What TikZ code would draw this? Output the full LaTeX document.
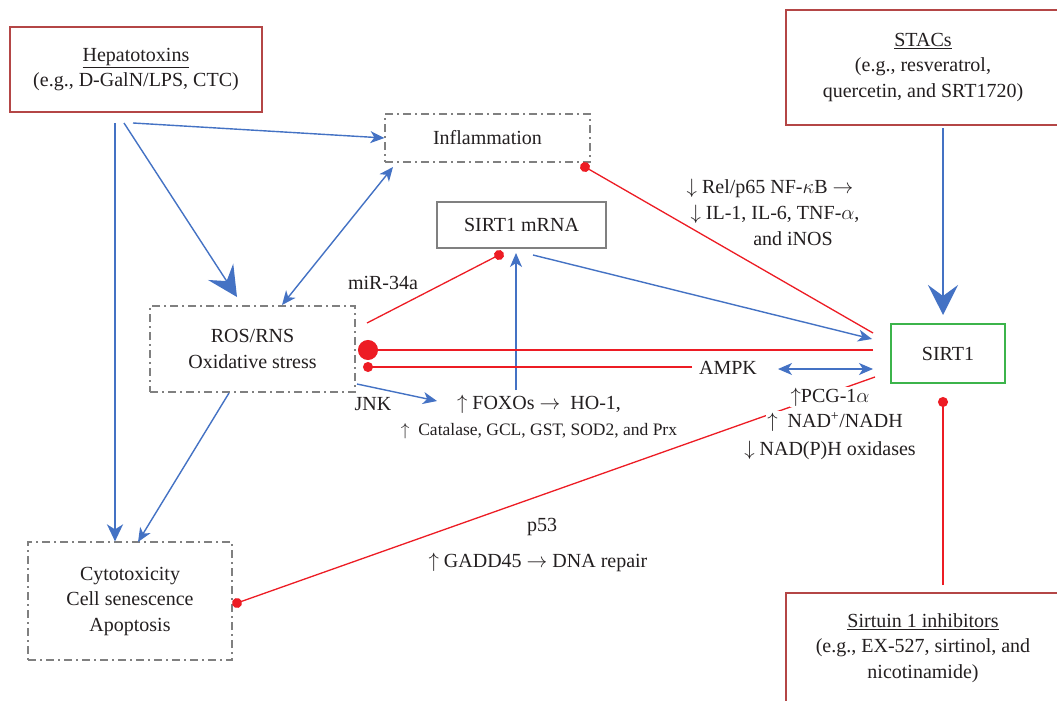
\documentclass[tikz,border=0pt]{standalone}
\usepackage{fontspec}
\setmainfont{Liberation Serif}
\usetikzlibrary{arrows.meta}
\definecolor{myblue}{RGB}{68,114,196}
\definecolor{myred}{RGB}{237,28,36}
\definecolor{boxred}{RGB}{180,70,70}
\definecolor{mygreen}{RGB}{60,180,75}
\definecolor{mygray}{RGB}{128,128,128}
\definecolor{txt}{RGB}{35,31,32}
\tikzset{
  solidbox/.style={draw=boxred, line width=1.5pt, align=center, inner sep=0pt},
  dbox/.style={draw=mygray, line width=1.2pt, dash pattern=on 8pt off 4pt on 2pt off 4pt, align=center, inner sep=0pt},
  bl/.style={draw=myblue, line width=1.4pt, -{Stealth[length=14pt,width=12pt,inset=4pt]}},
  bldbl/.style={draw=myblue, line width=1.4pt, {Stealth[length=14pt,width=12pt,inset=4pt]}-{Stealth[length=14pt,width=12pt,inset=4pt]}},
  blthick/.style={draw=myblue, line width=2.2pt, -{Stealth[length=17pt,width=16pt,inset=5pt]}},
  blbig/.style={draw=myblue, line width=2.2pt, -{Stealth[length=30pt,width=30pt,inset=11pt]}},
  rd/.style={draw=myred, line width=1.3pt, -{Circle[length=10pt]}, shorten >=-5pt},
  rdbig/.style={draw=myred, line width=1.3pt, -{Circle[length=20pt]}, shorten >=-10pt},
  rdplain/.style={draw=myred, line width=1.3pt},
  lbl/.style={inner sep=1pt},
  lblw/.style={fill=white, inner sep=1pt},
}
\begin{document}
\begin{tikzpicture}[x=1pt,y=-1pt, font=\fontsize{20}{25.5}\selectfont, text=txt]
\fill[white] (0,0) rectangle (1057,701);
\useasboundingbox (0,0) rectangle (1057,701);

% boxes
\node[solidbox, minimum width=252pt, minimum height=85pt] (hep) at (136,69.5) {\underline{Hepatotoxins}\\(e.g., D-GalN/LPS, CTC)};
\node[solidbox, minimum width=274pt, minimum height=115pt] (stacs) at (923,67.5) {\underline{STACs}\\(e.g., resveratrol,\\quercetin, and SRT1720)};
\node[solidbox, minimum width=274pt, minimum height=110pt] (inh) at (923,648) {\underline{Sirtuin 1 inhibitors}\\(e.g., EX-527, sirtinol, and\\nicotinamide)};
\node[dbox, minimum width=205pt, minimum height=48pt] (infl) at (487.5,138) {Inflammation};
\node[draw=mygray, line width=1.2pt, minimum width=169pt, minimum height=46pt, inner sep=0pt] (mrna) at (521.5,225) {SIRT1 mRNA};
\node[dbox, minimum width=205pt, minimum height=86pt] (ros) at (252.5,349) {ROS/RNS\\Oxidative stress};
\node[draw=mygreen, line width=1.5pt, minimum width=114pt, minimum height=59pt, inner sep=0pt] (sirt) at (948,353.5) {SIRT1};
\node[dbox, minimum width=204pt, minimum height=118pt] (cyto) at (130,601) {Cytotoxicity\\Cell senescence\\Apoptosis};

% connector end points
\coordinate (hA) at (115,123);
\coordinate (hB) at (124,123);
\coordinate (hC) at (133,123);
\coordinate (rosIn) at (237,297);
\coordinate (rosN) at (282,305);
\coordinate (inflSW) at (393,167);
\coordinate (rosS) at (229,393);
\coordinate (cytoN) at (138,542);
\coordinate (rosE) at (357,384);
\coordinate (foxIn) at (437,401);
\coordinate (foxUp) at (516,390);
\coordinate (mrnaS) at (516,253);
\coordinate (mirA) at (367,323);
\coordinate (mirDot) at (499,255);
\coordinate (mrnaE) at (533,255);
\coordinate (sirtA) at (872,339);
\coordinate (sirtB) at (873,333);
\coordinate (inflDot) at (585,167);
\coordinate (sirtC) at (873,350);
\coordinate (rosDotBig) at (368,350);
\coordinate (ampkW) at (692,367);
\coordinate (rosDot) at (368,367);
\coordinate (ampkE) at (778,369);
\coordinate (sirtD) at (873,369);
\coordinate (sirtE) at (875,377);
\coordinate (cytoDot) at (237,603);
\coordinate (stacsS) at (943,128);
\coordinate (sirtN) at (943,315);
\coordinate (inhN) at (943,585);
\coordinate (sirtDot) at (943,402);

% connectors
\draw[blthick] (hA) -- (hA |- cyto.north);
\draw[bl] (hC) -- (infl.west);
\draw[blbig, line width=1.4pt] (hB) -- (rosIn);
\draw[bldbl] (rosN) -- (inflSW);
\draw[bl] (rosS) -- (cytoN);
\draw[bl] (rosE) -- (foxIn);
\draw[bl] (foxUp) -- (mrnaS);
\draw[rd] (mirA) -- (mirDot);
\draw[bl] (mrnaE) -- (sirtA);
\draw[rd] (sirtB) -- (inflDot);
\draw[rdbig] (sirtC) -- (rosDotBig);
\draw[rd] (ampkW) -- (rosDot);
\draw[bldbl] (ampkE) -- (sirtD);
\draw[rd] (sirtE) -- (cytoDot);
\draw[blbig] (stacsS) -- (sirtN);
\draw[rd] (inhN) -- (sirtDot);

% labels
\node[lbl] (mir) at (383,283) {miR-34a};
\node[lbl] (jnk) at (373,404) {JNK};
\node[lblw] (fox) at (539,404) {$\uparrow$ FOXOs $\rightarrow$\ \ HO-1,};
\node[lblw, font=\fontsize{17.5}{21}\selectfont] (cat) at (539,431) {$\uparrow$\ \ Catalase, GCL, GST, SOD2, and Prx};
\node[lblw] (ampk) at (728,368) {AMPK};
\node[lbl] (rel1) at (770,188) {$\downarrow$ Rel/p65 NF-$\kappa$B $\rightarrow$};
\node[lbl] (rel2) at (775,214) {$\downarrow$ IL-1, IL-6, TNF-$\alpha$,};
\node[lbl] (rel3) at (793,239) {and iNOS};
\node[lblw] (pcg) at (830,397) {$\uparrow$PCG-1$\alpha$};
\node[lblw] (nad) at (835,422) {$\uparrow$\ \ NAD\textsuperscript{+}/NADH};
\node[lblw] (nadp) at (830,450) {$\downarrow$ NAD(P)H oxidases};
\node[lbl] (p53) at (542,527) {p53};
\node[lbl] (gadd) at (538,562) {$\uparrow$ GADD45 $\rightarrow$ DNA repair};
\end{tikzpicture}
\end{document}
